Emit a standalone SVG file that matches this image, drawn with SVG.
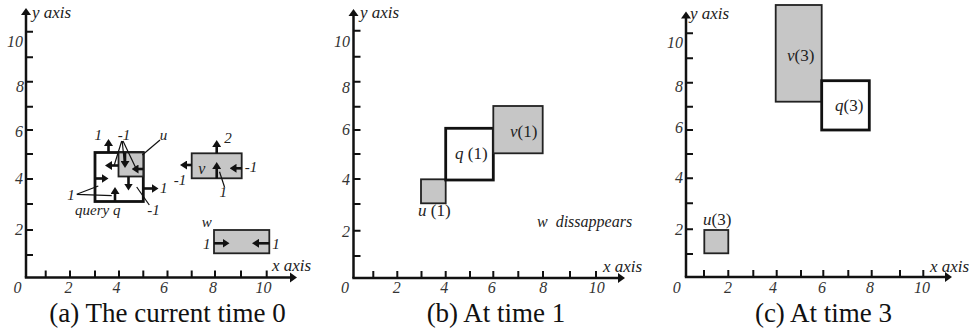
<svg xmlns="http://www.w3.org/2000/svg" width="969" height="335" viewBox="0 0 969 335">
<style>
.ax{stroke:#111;stroke-width:2.5;fill:none}
.ah{fill:#111}
.tk{stroke:#111;stroke-width:2}
.q{fill:#fff;stroke:#111;stroke-width:2.8}
.g{fill:#c6c6c6;stroke:#222;stroke-width:1.8}
.arr{stroke:#111;stroke-width:2.6;fill:none;marker-end:url(#ah)}
.ptr{stroke:#111;stroke-width:1.2;fill:none}
text{font-family:'Liberation Serif','Times New Roman','DejaVu Serif',serif}
.num{font-style:italic;font-size:16px;fill:#333}
.xn{text-anchor:middle}
.yn{text-anchor:end}
.lbl{font-style:italic;font-size:15px;fill:#222}
.nl{font-size:17px;fill:#222}
.it{font-style:italic}
.axl{font-style:italic;font-size:17px;fill:#222}
.cap{font-size:27px;text-anchor:middle;fill:#111}
.m{text-anchor:middle}
</style>
<defs>
<marker id="ah" viewBox="0 0 7 9" refX="0.5" refY="4.5" markerWidth="7" markerHeight="9" markerUnits="userSpaceOnUse" orient="auto">
<path d="M0,0 L7,4.5 L0,9 z" fill="#111"/>
</marker>
</defs>

<g id="axes-a">
<line class="ax" x1="26" y1="277.5" x2="26" y2="14"/>
<polygon class="ah" points="26,8 21,15 31,15"/>
<line class="ax" x1="24.8" y1="277.5" x2="291" y2="277.5"/>
<polygon class="ah" points="297,277.5 290,272.5 290,282.5"/>
<path class="tk" d="M45.7,277.5V270.5M70,277.5V270.5M95,277.5V270.5M119,277.5V270.5M143.3,277.5V270.5M167.5,277.5V270.5M191.7,277.5V270.5M215,277.5V270.5M241,277.5V270.5M266.7,277.5V270.5"/>
<path class="tk" d="M26,255H33M26,230H33M26,204H33M26,179H33M26,154H33M26,130H33M26,106.7H33M26,81.7H33M26,57.3H33M26,31.7H33"/>
<text class="axl" x="32" y="18" font-family="Liberation Serif">y axis</text>
<text class="axl" x="272" y="271">x axis</text>
<g class="num xn">
<text x="17.5" y="293">0</text><text x="68.5" y="293">2</text><text x="116.5" y="293">4</text><text x="164" y="293">6</text><text x="213" y="293">8</text><text x="263.5" y="293">10</text>
</g>
<g class="num yn">
<text x="23" y="47">10</text><text x="24" y="92">8</text><text x="23" y="137">6</text><text x="23" y="184">4</text><text x="23" y="235">2</text>
</g>
<text class="cap" x="167.5" y="322">(a) The current time 0</text>
</g>

<g id="a-q"><rect class="q" x="95" y="152.5" width="48.3" height="49"/>
<text class="lbl" x="75" y="215">query q</text></g>
<g id="a-u"><rect class="g" x="118.5" y="152.5" width="24.8" height="24"/>
<text class="lbl m" x="163.5" y="140">u</text></g>
<g id="a-v"><rect class="g" x="191.7" y="153.3" width="50" height="25"/>
<text class="lbl m" x="201.7" y="174" style="font-size:16px">v</text></g>
<g id="a-w"><rect class="g" x="214" y="230" width="55.3" height="23.3"/>
<text class="lbl m" x="206.7" y="227">w</text></g>

<g id="a-labels" class="lbl">
<text class="m" x="98.3" y="140">1</text>
<text class="m" x="124" y="140">-1</text>
<text x="160" y="193">1</text>
<text class="m" x="71" y="200">1</text>
<text class="m" x="153.5" y="215">-1</text>
<text class="m" x="228" y="143">2</text>
<text class="m" x="180" y="185">-1</text>
<text class="m" x="223.3" y="197">1</text>
<text class="m" x="251" y="172">-1</text>
<text class="m" x="206.7" y="249">1</text>
<text class="m" x="276" y="249">1</text>
</g>

<g id="connectors">
<line class="arr" x1="108.5" y1="152.5" x2="108.5" y2="145.5"/>
<line class="arr" x1="118.3" y1="165.5" x2="111.5" y2="165.5"/>
<line class="arr" x1="125" y1="152.5" x2="125" y2="161.5"/>
<line class="arr" x1="143.3" y1="169" x2="138" y2="169"/>
<line class="arr" x1="95" y1="178.5" x2="102" y2="178.5"/>
<line class="arr" x1="115" y1="201.5" x2="115" y2="193.5"/>
<line class="arr" x1="128.5" y1="176.5" x2="128.5" y2="184"/>
<line class="arr" x1="143.3" y1="188.5" x2="152" y2="188.5"/>
<line class="arr" x1="216.7" y1="153.3" x2="216.7" y2="146.5"/>
<line class="arr" x1="191.7" y1="165" x2="186.5" y2="165"/>
<line class="arr" x1="216.7" y1="178.3" x2="216.7" y2="168.5"/>
<line class="arr" x1="241.7" y1="168.3" x2="236" y2="168.3"/>
<line class="arr" x1="214" y1="243.3" x2="223" y2="243.3"/>
<line class="arr" x1="269.3" y1="243.3" x2="258.5" y2="243.3"/>
<path class="ptr" d="M121.7,141L114.3,165M122.2,141L124.3,162.3M123,141L135.7,167.7"/>
<path class="ptr" d="M76.7,194.3L98.3,186M76.7,194.3L111.7,195.7"/>
<path class="ptr" d="M149.3,205L136.7,187"/>
<path class="ptr" d="M160,140L142.3,155"/>
<path class="ptr" d="M224.5,187L219.5,171.7"/>
</g>

<g id="axes-b">
<line class="ax" x1="353.5" y1="278" x2="353.5" y2="15"/>
<polygon class="ah" points="353.5,9 348.5,16 358.5,16"/>
<line class="ax" x1="352.3" y1="278" x2="619" y2="278"/>
<polygon class="ah" points="625,278 618,273 618,283"/>
<path class="tk" d="M373.3,278V271M397.3,278V271M421.5,278V271M445.7,278V271M470,278V271M493.3,278V271M518.3,278V271M543,278V271M570,278V271M596,278V271"/>
<path class="tk" d="M353.5,256H360.5M353.5,230.7H360.5M353.5,204H360.5M353.5,179H360.5M353.5,154H360.5M353.5,130H360.5M353.5,106.7H360.5M353.5,81.7H360.5M353.5,56.7H360.5M353.5,30.7H360.5"/>
<text class="axl" x="360" y="18">y axis</text>
<text class="axl" x="603" y="272">x axis</text>
<g class="num xn">
<text x="345" y="293">0</text><text x="396.7" y="293">2</text><text x="444.3" y="293">4</text><text x="491.7" y="293">6</text><text x="543.3" y="293">8</text><text x="596.7" y="293">10</text>
</g>
<g class="num yn">
<text x="350" y="47">10</text><text x="350" y="93">8</text><text x="350" y="135">6</text><text x="350" y="185">4</text><text x="350" y="237">2</text>
</g>
<text class="cap" x="496" y="322">(b) At time 1</text>
</g>
<g id="b-u"><rect class="g" x="421" y="179.3" width="24.7" height="24"/>
<text class="nl" x="418" y="216"><tspan class="it">u</tspan> (1)</text></g>
<g id="b-q"><rect class="q" x="445.7" y="128.3" width="47.6" height="51.7"/>
<text class="nl" x="455" y="159"><tspan class="it">q</tspan> (1)</text></g>
<g id="b-v"><rect class="g" x="493.3" y="106" width="49.4" height="47.3"/>
<text class="nl" x="510" y="137"><tspan class="it">v</tspan>(1)</text></g>
<g id="b-w"><text class="lbl" x="537" y="227" style="font-size:16px">w<tspan dx="8">dissappears</tspan></text></g>

<g id="axes-c">
<line class="ax" x1="686" y1="277" x2="686" y2="17"/>
<polygon class="ah" points="686,11.5 681,18.5 691,18.5"/>
<line class="ax" x1="684.8" y1="277" x2="945" y2="277"/>
<polygon class="ah" points="952,277 945,272 945,282"/>
<path class="tk" d="M704,277V270M728.3,277V270M753.3,277V270M776.7,277V270M801,277V270M823.3,277V270M848.3,277V270M871.7,277V270M900,277V270M923.3,277V270"/>
<path class="tk" d="M686,254H693M686,229.3H693M686,203.3H693M686,178.3H693M686,154H693M686,130H693M686,106.7H693M686,82.7H693M686,58.3H693M686,33.3H693"/>
<text class="axl" x="690" y="19">y axis</text>
<text class="axl" x="930" y="272">x axis</text>
<g class="num xn">
<text x="676.7" y="293">0</text><text x="728" y="293">2</text><text x="773" y="293">4</text><text x="822" y="293">6</text><text x="870" y="293">8</text><text x="922" y="293">10</text>
</g>
<g class="num yn">
<text x="683" y="48">10</text><text x="683" y="92">8</text><text x="683" y="133">6</text><text x="683" y="183">4</text><text x="683" y="235">2</text>
</g>
<text class="cap" x="823.5" y="322">(c) At time 3</text>
</g>
<g id="c-v"><rect class="g" x="775.7" y="5" width="46" height="96.7"/>
<text class="nl" x="787" y="61"><tspan class="it">v</tspan>(3)</text></g>
<g id="c-q"><rect class="q" x="821.7" y="80.7" width="47.6" height="49.3"/>
<text class="nl" x="835" y="111"><tspan class="it">q</tspan>(3)</text></g>
<g id="c-u"><rect class="g" x="704.3" y="230" width="24" height="23.3"/>
<text class="nl" x="703" y="225"><tspan class="it">u</tspan>(3)</text></g>
</svg>
